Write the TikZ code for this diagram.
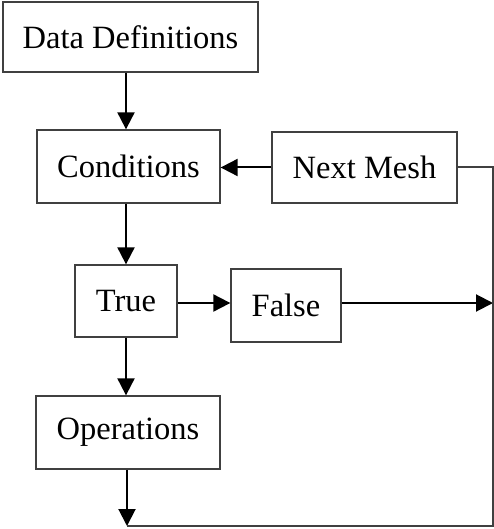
\documentclass[tikz,border=0pt]{standalone}
\usepackage{fontspec}
\setmainfont{Liberation Serif}
\usetikzlibrary{arrows.meta}
\begin{document}
\begin{tikzpicture}[x=1pt,y=-1pt,
  box/.style={draw=black!75,line width=1.3pt,rectangle,inner sep=0pt,
    font=\fontsize{32.5}{38}\selectfont},
  arr/.style={line width=2pt,-{Triangle[width=17pt,length=17pt]}},
  thin/.style={draw=black!75,line width=1.3pt}]
\useasboundingbox (0,0) rectangle (494,529);
\node[box,minimum width=255pt,minimum height=70pt] (dd) at (130.5,37) {Data Definitions};
\node[box,minimum width=183pt,minimum height=73pt] (cond) at (128.5,166.5) {Conditions};
\node[box,minimum width=185pt,minimum height=71pt] (nm) at (364.5,167.5) {Next Mesh};
\node[box,minimum width=102pt,minimum height=72pt] (tr) at (126,301) {True};
\node[box,minimum width=110pt,minimum height=73pt] (fa) at (286,305.5) {False};
\node[box,minimum width=184pt,minimum height=73pt] (op) at (128,432.5) {Operations};
\coordinate (rt) at (493,167);
\coordinate (rf) at (493,303);
\coordinate (rb) at (493,526);
\coordinate (bl) at (127,526);
\draw[arr] (dd.south -| tr.center) -- (cond.north -| tr.center);
\draw[arr] (nm.west) -- (cond.east |- nm.west);
\draw[arr] (cond.south -| tr.center) -- (tr.north);
\draw[arr] (tr.east |- rf) -- (fa.west |- rf);
\draw[arr] (fa.east |- rf) -- (rf);
\draw[arr] (tr.south) -- (op.north -| tr.center);
\draw[arr] (op.south -| bl) -- (bl);
\draw[thin] (nm.east |- rt) -- (rt) -- (rb) -- (bl);
\end{tikzpicture}
\end{document}
